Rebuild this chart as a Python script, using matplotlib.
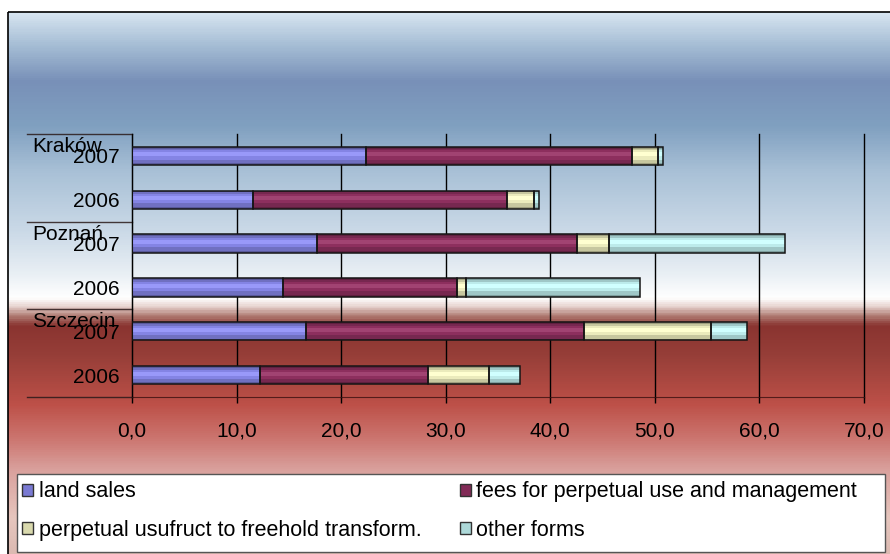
import numpy as np
import matplotlib
matplotlib.use('Agg')
import matplotlib.pyplot as plt
from matplotlib.colors import LinearSegmentedColormap, to_rgb
from matplotlib.patches import Patch, Rectangle
from matplotlib.lines import Line2D
from matplotlib.transforms import blended_transform_factory

plt.rcParams['font.family'] = ['Liberation Sans', 'DejaVu Sans']

# data
cities = ['Kraków', 'Poznań', 'Szczecin']
years = ['2007', '2006']
series_names = ['land sales', 'fees for perpetual use and management',
                'perpetual usufruct to freehold transform.', 'other forms']
land_sales = [22.4, 11.6, 17.7, 14.4, 16.6, 12.2]
fees = [25.4, 24.3, 24.9, 16.7, 26.6, 16.1]
transform = [2.5, 2.5, 3.0, 0.8, 12.2, 5.8]
other = [0.5, 0.5, 16.8, 16.7, 3.4, 3.0]

colors = ['#9090f8', '#993366', '#ffffcc', '#ccffff']

W, H = 890, 554
fs = 15
fig = plt.figure(figsize=(W / 100, H / 100), dpi=100)

# background gradient (pixel coords)
bg = fig.add_axes([0, 0, 1, 1], zorder=-1)
stops = [(12, '#d6e4f0'), (45, '#a4bcd4'), (80, '#7890b8'), (125, '#80a0c0'),
         (170, '#a8c0d6'), (230, '#cad9e7'), (275, '#eaf0f5'), (298, '#ffffff'),
         (306, '#ead8d4'), (316, '#b07c74'), (326, '#8a3430'), (355, '#963e38'),
         (405, '#bd5048'), (440, '#cc7670'), (470, '#d9a09c'), (520, '#e6c6be'),
         (554, '#dcbab2')]
cmap = LinearSegmentedColormap.from_list(
    'bg', [((y - 12) / (H - 12), c) for y, c in stops])
grad = np.linspace(0, 1, 600)[:, None]
bg.imshow(grad, aspect='auto', cmap=cmap, extent=(8, W, H, 12))
bg.add_patch(Rectangle((8, 12), 900, 560, fill=False, edgecolor='black', lw=1.2))
# legend box
bg.add_patch(Rectangle((17, 474), 868, 78, facecolor='white', edgecolor='#555555', lw=1))
bg.set_xlim(0, W)
bg.set_ylim(H, 0)
bg.axis('off')

# main axes
ax = fig.add_axes([132 / W, 1 - 397 / H, (864 - 132) / W, (397 - 134) / H])
ax.set_facecolor('none')

ypos = np.arange(len(land_sales))
h = 0.42


def shade(c, f):
    r = np.array(to_rgb(c))
    if f < 1:
        return tuple(r * f)
    return tuple(r + (1 - r) * (f - 1))


left = np.zeros(len(ypos))
for vals, col in zip([land_sales, fees, transform, other], colors):
    vals = np.array(vals)
    ax.barh(ypos, vals, height=h, left=left, color=shade(col, 0.62), lw=0, zorder=2)
    ax.barh(ypos, vals, height=h * 0.8, left=left, color=shade(col, 0.78), lw=0, zorder=2)
    ax.barh(ypos - h * 0.05, vals, height=h * 0.5, left=left, color=shade(col, 0.92), lw=0, zorder=2)
    ax.barh(ypos - h * 0.08, vals, height=h * 0.22, left=left, color=shade(col, 1.08), lw=0, zorder=2)
    ax.barh(ypos, vals, height=h, left=left, facecolor='none', edgecolor='#151515', lw=1.1, zorder=3)
    left = left + vals

ax.set_xlim(0, 70)
ax.set_ylim(5.5, -0.5)
ticks = np.arange(0, 71, 10)
ax.set_xticks(ticks)
ax.set_xticklabels([('%.1f' % t).replace('.', ',') for t in ticks], fontsize=fs)
ax.set_yticks(ypos)
ax.set_yticklabels(years * len(cities), fontsize=fs)
ax.tick_params(axis='y', length=0, pad=9)
ax.tick_params(axis='x', length=4.5, width=1, direction='out', pad=13, colors='black')
ax.xaxis.grid(True, color='black', lw=1)
for gl in ax.get_xgridlines():
    gl.set_clip_on(False)
ax.set_axisbelow(True)
for s in ['top', 'right']:
    ax.spines[s].set_visible(False)
ax.spines['left'].set_color('black')
ax.spines['bottom'].set_color('#3a1010')
ax.spines['bottom'].set_alpha(0.8)

# multi-level category labels
tr = blended_transform_factory(fig.transFigure, ax.transData)
for i, city in enumerate(cities):
    y0 = i * len(years) - 0.5
    ax.text(32 / W, y0 + 0.07, city, transform=tr, fontsize=fs, va='top', ha='left')
for i in range(len(cities) + 1):
    y0 = i * len(years) - 0.5
    ax.add_line(Line2D([27 / W, 132 / W], [y0, y0], transform=tr, color='#2a1a1a',
                       lw=1, alpha=0.85, clip_on=False))

# legend
handles = [Patch(facecolor=shade(c, 0.85), edgecolor='#333333', lw=1) for c in colors]
order = [0, 2, 1, 3]
fig.legend([handles[i] for i in order], [series_names[i] for i in order],
           loc='upper left', bbox_to_anchor=(17 / W, 1 - 476 / H),
           ncol=2, fontsize=15.5, frameon=False,
           handlelength=0.5, handleheight=0.5, handletextpad=0.25,
           labelspacing=0.8, borderpad=0.25, borderaxespad=0, columnspacing=1.8)

fig.savefig('out.png', dpi=100)
